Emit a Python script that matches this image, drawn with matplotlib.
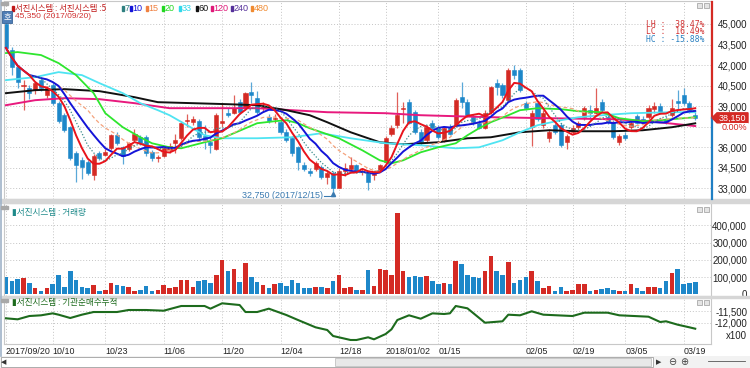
import numpy as np
import pandas as pd
import matplotlib
matplotlib.use("Agg")
import matplotlib.pyplot as plt
from matplotlib.patches import Rectangle, Polygon
from matplotlib.lines import Line2D

plt.rcParams['font.family'] = ['Noto Sans CJK KR', 'DejaVu Sans']

# ---- daily candles (2017/09/20 .. 2018/03/20) ----
opens = [45000, 43100, 41850, 40500, 40300, 40150, 40900, 39800, 40550, 39200,
         38350, 37450, 35550, 35050, 34900, 33950, 35600, 35450, 35950, 36900,
         36000, 35900, 36500, 36750, 36750, 35650, 35200, 35400, 35800, 36300,
         36650, 37900, 37850, 37950, 36850, 36350, 35900, 37750, 38500, 38500,
         39300, 38850, 40050, 39600, 38850, 38200, 38050, 37850, 37100, 36650,
         36000, 34700, 34300, 34450, 34550, 33800, 34150, 33050, 34250, 34450,
         34700, 34200, 34150, 33950, 34350, 34900, 37000, 37600, 38800, 39300,
         38550, 37100, 36500, 37800, 37400, 36500, 37500, 37600, 39650, 39300,
         38200, 37800, 37400, 38550, 40700, 40550, 39450, 41650, 41650, 39200,
         37450, 39200, 37600, 36650, 37600, 37600, 36350, 37100, 37450, 38200,
         38700, 38500, 39300, 38200, 37850, 36350, 36900, 37450, 38300, 38100,
         38200, 38800, 39050, 38100, 38350, 39350, 39800, 39250, 38350]
highs = [45350, 43300, 42000, 40900, 40550, 40850, 41100, 40500, 40700, 39400,
         38500, 37550, 35700, 35300, 35100, 35500, 35700, 35900, 37000, 37100,
         36100, 36400, 37300, 36900, 36900, 35800, 35450, 36100, 36300, 37000,
         37900, 38400, 38300, 38100, 37600, 36800, 38500, 39200, 38900, 39850,
         39500, 40000, 40800, 40100, 39300, 38400, 38400, 38000, 37300, 36800,
         36100, 34900, 34500, 35000, 34700, 34300, 34300, 34500, 34850, 35300,
         34800, 34500, 34300, 34300, 34800, 36800, 37600, 40000, 39300, 39500,
         38700, 37300, 37600, 38000, 37600, 37500, 37700, 39600, 40800, 39500,
         38400, 38000, 38700, 40500, 41000, 40700, 41800, 42000, 41800, 39400,
         38700, 39400, 38700, 37300, 37800, 37800, 37000, 37600, 37900, 39000,
         39100, 40300, 39500, 38400, 38000, 37000, 37100, 38000, 38400, 38300,
         39100, 39300, 39200, 38300, 39500, 40200, 40300, 39400, 38600]
lows = [43000, 41300, 40300, 38700, 39500, 39900, 40100, 39600, 39100, 37800,
        37100, 35100, 33450, 33700, 34000, 33600, 35100, 35400, 35800, 36200,
        34800, 35700, 36400, 36200, 35400, 35000, 34950, 35300, 35600, 35600,
        36500, 37500, 37600, 36600, 35900, 35600, 35800, 37500, 38200, 38400,
        38400, 38700, 39200, 38400, 38600, 37800, 37800, 37000, 36400, 35400,
        34350, 34300, 33900, 34300, 33700, 33300, 32750, 33000, 33900, 34300,
        34200, 34000, 32900, 33600, 34200, 34800, 36800, 37400, 37800, 37700,
        37000, 36200, 36300, 37300, 36600, 36400, 36900, 37500, 38900, 38200,
        37600, 37300, 37300, 38400, 39850, 39600, 39300, 41000, 40000, 38700,
        36100, 37900, 37400, 36400, 37000, 36000, 35900, 37000, 37300, 38000,
        38100, 38400, 38600, 37700, 36600, 36200, 36500, 37300, 37700, 37800,
        38100, 38500, 38400, 37700, 38200, 38700, 39100, 38500, 38000]
closes = [43250, 41850, 40750, 40550, 39950, 40700, 40300, 40300, 39200, 37950,
          37250, 35250, 34700, 34550, 34100, 35400, 35250, 35650, 36900, 36300,
          35400, 36300, 37000, 36300, 35550, 35200, 35300, 35950, 36100, 36500,
          37750, 37980, 38100, 36750, 36500, 36150, 38350, 37950, 38350, 38900,
          38550, 39950, 39800, 38550, 39050, 37950, 38150, 37100, 36500, 35550,
          34900, 34450, 34100, 34850, 33800, 34150, 33050, 34300, 34500, 34700,
          34300, 34300, 33450, 34150, 34700, 36700, 37400, 38350, 38850, 37800,
          37100, 36350, 37450, 37400, 36750, 37400, 37000, 39450, 39300, 38350,
          37750, 37400, 38500, 40400, 40400, 39800, 41650, 41250, 40150, 38900,
          38500, 38100, 38500, 37100, 37100, 36150, 36850, 37400, 37750, 38850,
          38500, 38850, 38700, 37850, 36750, 36850, 36650, 37800, 37800, 37950,
          38900, 39050, 38550, 37850, 38900, 39250, 39250, 38700, 38150]
# volume, thousands of shares
volumes_k = [100, 77, 88, 94, 69, 37, 19, 39, 63, 110,
             46, 133, 85, 42, 35, 56, 19, 27, 67, 56,
             48, 42, 23, 27, 50, 23, 27, 56, 39, 46,
             85, 85, 42, 77, 81, 67, 114, 200, 137, 148,
             75, 183, 104, 73, 56, 35, 58, 69, 52, 81,
             69, 40, 40, 46, 46, 35, 79, 110, 39, 42,
             27, 27, 143, 50, 148, 139, 114, 472, 133, 100,
             108, 100, 108, 77, 62, 69, 58, 195, 179, 112,
             102, 94, 133, 220, 133, 112, 187, 65, 85, 102,
             135, 77, 39, 50, 23, 42, 19, 27, 62, 62,
             19, 27, 29, 40, 27, 23, 19, 60, 36, 20,
             43, 43, 40, 79, 127, 146, 60, 69, 75]

tick_pos = [0, 8, 17, 27, 37, 47, 57, 65, 74, 89, 97, 106, 116]
tick_labels = ['2017/09/20', '10/10', '10/23', '11/06', '11/20', '12/04', '12/18',
               '2018/01/02', '01/15', '02/05', '02/19', '03/05', '03/19']

# longer moving averages (need history before the window) read at sample bars
ma20_idx = [0, 2, 6, 9, 12, 15, 17, 20, 23, 25, 28, 30, 32, 34, 37, 39, 41, 43, 46, 48,
            50, 52, 54, 57, 61, 64, 66, 68, 71, 74, 77, 79, 81, 83, 86, 88, 91, 95, 98, 102,
            105, 109, 112, 118]
ma20_val = [42878, 42951, 42732, 42146, 41268, 39951, 38488, 37464, 36732, 36293,
            35999, 35927, 36146, 36366, 36659, 37025, 37390, 37756, 37903, 37976,
            37756, 37390, 37100, 36659, 35781, 35049, 34829, 35049, 35634, 35999,
            36293, 36878, 37390, 37829, 38341, 38707, 38854, 38781, 38634, 38561,
            38122, 37903, 37976, 38195]
ma33_idx = [0, 5, 9, 13, 16, 20, 23, 26, 28, 34, 37, 40, 43, 49, 54, 59, 65, 71, 77, 81,
            85, 88, 91, 95, 98, 102, 107, 114, 118]
ma33_val = [40902, 41122, 41488, 41268, 40683, 39951, 39220, 38707, 38341, 36878,
            36659, 36659, 36659, 36732, 37025, 36659, 36293, 36146, 35927, 35999,
            36512, 37098, 37610, 37976, 38195, 38341, 38488, 38561, 38561]
ma60_idx = [0, 5, 10, 16, 22, 26, 32, 38, 43, 48, 52, 55, 59, 64, 68, 74, 79, 83, 88, 93,
            98, 104, 109, 114, 118]
ma60_val = [39951, 40171, 40244, 40098, 39659, 39293, 39220, 39146, 39073, 38707,
            38341, 37829, 37098, 36366, 36220, 36366, 36659, 36732, 37098, 37244,
            37171, 37171, 37244, 37464, 37750]
ma120_idx = [0, 5, 10, 16, 22, 28, 38, 43, 49, 55, 65, 71, 83, 93, 104, 110, 118]
ma120_val = [39073, 39439, 39585, 39512, 39220, 38854, 38854, 38854, 38707, 38561,
             38488, 38341, 38195, 38122, 38049, 37903, 37550]

# institutional cumulative net buying (x100)
inst_idx = [0, 2, 4, 6, 8, 9, 11, 13, 15, 19, 21, 24, 27, 30, 34, 35, 37, 40, 41, 43,
            45, 48, 50, 53, 55, 56, 59, 60, 62, 63, 65, 66, 67, 69, 71, 73, 75, 76, 77, 79,
            82, 85, 86, 88, 90, 92, 97, 99, 103, 105, 110, 112, 113, 115, 117, 118]
inst_val = [-11812, -11855, -11714, -11684, -11600, -11657, -11799, -11657, -11543, -11543,
            -11457, -11457, -11487, -11286, -11286, -11400, -11171, -11244, -11543, -11543,
            -11400, -11671, -11885, -12197, -12312, -12568, -12739, -12739, -12624, -12710,
            -12483, -12282, -11885, -11684, -11829, -11600, -11628, -11600, -11286, -11385,
            -12000, -11940, -11657, -11684, -11513, -11657, -11714, -11572, -11572, -11684,
            -11743, -11970, -11940, -12085, -12197, -12256]

RED = '#d42a24'
BLUE = '#1d87c9'
GRID = '#c4c4c4'
W, H = 750, 368


def fx(x):
    return x / W


def fy(y):
    return 1 - y / H


o = np.array(opens)
h = np.array(highs)
l = np.array(lows)
c = np.array(closes)
n = len(c)
x = np.arange(n)
up = c >= o
cols = np.where(up, RED, BLUE)
wick_cols = np.where(up, '#e0605a', '#5aa8d8')

close_s = pd.Series(c, dtype=float)
ma5 = close_s.rolling(5, min_periods=1).mean()
ma7 = close_s.rolling(7, min_periods=1).mean()
ma10 = close_s.rolling(10, min_periods=1).mean()
ma15 = close_s.rolling(15, min_periods=1).mean()

fig = plt.figure(figsize=(7.5, 3.68), dpi=100)
fig.patch.set_facecolor('white')

XL = (-0.34, 120.7)
ax_p = fig.add_axes([fx(4), fy(199), 707 / W, 198 / H])
ax_v = fig.add_axes([fx(4), fy(296), 707 / W, 93 / H])
ax_i = fig.add_axes([fx(4), fy(344), 707 / W, 46 / H])

for ax in (ax_p, ax_v, ax_i):
    ax.set_xlim(*XL)
    ax.set_facecolor('white')
    for s in ax.spines.values():
        s.set_color('#c8c8c8')
        s.set_linewidth(0.8)
    ax.yaxis.tick_right()
    ax.tick_params(axis='y', length=0, labelsize=7, pad=26, colors='#222222')
    ax.tick_params(axis='x', length=0)
    for xp in tick_pos:
        ax.axvline(xp, color=GRID, lw=0.7, ls=(0, (1, 2)), zorder=0)

# ---- price panel ----
ax_p.set_ylim(32225, 46679)
pticks = [33000, 34500, 36000, 37500, 39000, 40500, 42000, 43500, 45000]
ax_p.set_yticks(pticks)
ax_p.set_yticklabels([f'{t:,}' if t != 37500 else '' for t in pticks],
                     fontfamily='Liberation Sans')
for t in pticks:
    ax_p.axhline(t, color=GRID, lw=0.7, ls=(0, (1, 2)), zorder=0)
ax_p.set_xticks([])

ax_p.vlines(x, l, h, colors=wick_cols, lw=0.9, zorder=2)
body = np.maximum(np.abs(c - o), 40)
ax_p.bar(x, body, bottom=np.minimum(o, c), width=0.7, color=cols,
         edgecolor=cols, lw=0.4, zorder=2)

ax_p.plot(ma120_idx, ma120_val, color='#e8197d', lw=1.4, zorder=3)
ax_p.plot(ma60_idx, ma60_val, color='#111111', lw=1.4, zorder=3)
ax_p.plot(ma33_idx, ma33_val, color='#4fe4f2', lw=1.3, zorder=3)
ax_p.plot(ma20_idx, ma20_val, color='#2ee62e', lw=1.3, zorder=3)
ax_p.plot(x, ma15, color='#f4a27c', lw=0.9, ls=(0, (3, 2)), zorder=3)
ax_p.plot(x, ma10, color='#1414d8', lw=1.4, zorder=4)
ax_p.plot(x, ma7, color='#3a8c8c', lw=0.9, ls=(0, (1, 1.5)), zorder=4)
ax_p.plot(x, ma5, color='#e8141c', lw=1.4, zorder=5)

# low annotation
imin = int(np.argmin(l))
ax_p.plot([imin - 1.6, imin], [32480, 32480], color='#3a7ab0', lw=0.8, zorder=6)
ax_p.plot([imin], [32560], marker='^', ms=3, color='#3a7ab0', zorder=6)
ax_p.text(imin - 1.7, 32480, f'{l[imin]:,} (2017/12/15)', color='#3a7ab0',
          fontsize=6.5, ha='right', va='center', fontfamily='Liberation Sans')

# ---- volume panel ----
vols = np.array(volumes_k) * 1000
ax_v.set_ylim(-8700, 529000)
vticks = [0, 100000, 200000, 300000, 400000]
ax_v.set_yticks(vticks)
ax_v.set_yticklabels([f'{t:,}' for t in vticks], fontfamily='Liberation Sans')
for t in vticks[1:]:
    ax_v.axhline(t, color=GRID, lw=0.7, ls=(0, (1, 2)), zorder=0)
ax_v.bar(x, vols, width=0.78, color=cols, zorder=2)
ax_v.set_xticks([])

# ---- institutional panel ----
ax_i.set_ylim(-12910, -10944)
iticks = [-12000, -11500]
ax_i.set_yticks(iticks)
ax_i.set_yticklabels([f'{t:,}' for t in iticks], fontfamily='Liberation Sans')
for t in iticks:
    ax_i.axhline(t, color=GRID, lw=0.7, ls=(0, (1, 2)), zorder=0)
ax_i.plot(inst_idx, inst_val, color='#1d6b1d', lw=1.5, zorder=3)
ax_i.set_xticks(tick_pos)
ax_i.set_xticklabels(tick_labels, fontsize=6.4, color='#222222', fontfamily='Liberation Sans')
for lab in ax_i.get_xticklabels():
    lab.set_horizontalalignment('left')
ax_i.tick_params(axis='x', pad=2)
for lab in ax_p.get_yticklabels() + ax_v.get_yticklabels() + ax_i.get_yticklabels():
    lab.set_horizontalalignment('right')

# ---- panel separators, frame bits ----
for y0, y1 in [(199, 203), (296, 298)]:
    fig.patches.append(Rectangle((0, fy(y1)), 1, (y1 - y0) / H, transform=fig.transFigure,
                                 color='#d6d6d6', zorder=0))
fig.add_artist(Line2D([fx(0.7), fx(0.7)], [fy(0), fy(356)], color='#9fb3c8', lw=1.2))

# current price line on right edge
last = c[-1]
ylast = fy(1) - (46679 - last) / (46679 - 32225) * (198 / H)
fig.add_artist(Line2D([fx(711.5), fx(711.5)], [fy(2), ylast], color=RED, lw=1.6))
fig.add_artist(Line2D([fx(711.5), fx(711.5)], [ylast, fy(199)], color='#1f7fc4', lw=1.6))
yl_px = (1 - ylast) * H
fig.patches.append(Polygon([(fx(712), ylast), (fx(717), fy(yl_px - 5)), (fx(748), fy(yl_px - 5)),
                            (fx(748), fy(yl_px + 5)), (fx(717), fy(yl_px + 5))],
                           closed=True, transform=fig.transFigure, color=RED, zorder=5))
fig.text(fx(746), ylast, f'{last:,}', color='white', fontsize=6.5, ha='right', va='center',
         fontfamily='Liberation Sans', zorder=6)
fig.text(fx(747), fy(yl_px + 10), '0.00%', color=RED, fontsize=6.5, ha='right', va='center',
         fontfamily='Liberation Sans', zorder=6,
         bbox=dict(facecolor='white', edgecolor='none', pad=0.5))

fig.text(fx(747), fy(336), 'x100', fontsize=7, ha='right', va='center', color='#222222',
         fontfamily='Liberation Sans')

# LH / LC / HC box
mono = 'DejaVu Sans Mono'
fig.text(fx(704), fy(24.5), 'LH :  38.47%', color='#d03030', fontsize=5.8, ha='right',
         va='center', fontfamily=mono)
fig.text(fx(704), fy(32), 'LC :  16.49%', color='#d03030', fontsize=5.8, ha='right',
         va='center', fontfamily=mono)
fig.text(fx(704), fy(39.5), 'HC : -15.88%', color='#2a80c0', fontsize=5.8, ha='right',
         va='center', fontfamily=mono)

# legend line on price panel (the max-high note sits just under it)
fig.text(fx(15), fy(17), '45,350 (2017/09/20)', color='#d03030', fontsize=6,
         va='center', fontfamily='Liberation Sans')
fig.patches.append(Rectangle((fx(12), fy(11)), 1.6 / W, 5 / H, transform=fig.transFigure,
                             color='#c01818', zorder=6))
fig.text(fx(15), fy(8), '서진시스템 : 서진시스템 :5', color='#c01818', fontsize=6,
         va='center', family=['Noto Sans CJK KR', 'DejaVu Sans'])
ma_leg = [('7', 122, '#2f8080'), ('10', 130, '#1414d8'), ('15', 146, '#f08040'),
          ('20', 162, '#22d822'), ('33', 179, '#30d8ea'), ('60', 196, '#111111'),
          ('120', 211, '#e01878'), ('240', 231, '#55309a'), ('480', 251, '#f08a30')]
for lab, xx, col in ma_leg:
    fig.patches.append(Rectangle((fx(xx), fy(11)), 1.6 / W, 5 / H, transform=fig.transFigure,
                                 color=col, zorder=6))
    fig.text(fx(xx + 2.6), fy(8.5), lab, color=col, fontsize=6.5, va='center',
             fontfamily='Liberation Sans')

# "호" button
fig.text(fx(7), fy(17), '호', color='white', fontsize=6, ha='center', va='center',
         bbox=dict(facecolor='#4f7eb6', edgecolor='#3a6496', pad=1.2, lw=0.6), zorder=7)

# panel labels
fig.text(fx(12), fy(212), '▮서진시스템 : 거래량', color='#1e8a8a', fontsize=6.2, va='center',
         family=['Noto Sans CJK KR', 'DejaVu Sans'])
fig.text(fx(12), fy(302), '▮서진시스템 : 기관순매수누적', color='#1d6b1d', fontsize=6.2,
         va='center', family=['Noto Sans CJK KR', 'DejaVu Sans'])

# small window icons
for yy in (3, 207, 300):
    fig.patches.append(Rectangle((fx(1), fy(yy + 2)), 7 / W, 3 / H, transform=fig.transFigure,
                                 color='#a8a8a8', zorder=6))
    for xx in (697, 704):
        fig.patches.append(Rectangle((fx(xx), fy(yy + 5)), 5 / W, 5 / H,
                                     transform=fig.transFigure, facecolor='#e4e4e4',
                                     edgecolor='#9a9a9a', lw=0.5, zorder=6))

# scrollbar strip
fig.patches.append(Rectangle((0, 0), 1, 12 / H, transform=fig.transFigure,
                             facecolor='#f2f2f2', edgecolor='none', zorder=1))
fig.patches.append(Rectangle((fx(1), fy(367)), 652 / W, 10 / H, transform=fig.transFigure,
                             facecolor='white', edgecolor='#a0a0a0', lw=0.6, zorder=2))
fig.patches.append(Rectangle((fx(335), fy(366)), 316 / W, 8 / H, transform=fig.transFigure,
                             facecolor='#e8e8e8', edgecolor='#b8b8b8', lw=0.5, zorder=3))
fig.text(fx(4), fy(362), '◀', fontsize=5, va='center', ha='center', color='#333333',
         family=['DejaVu Sans'])
fig.text(fx(659), fy(362), '▶', fontsize=5, va='center', ha='center', color='#333333',
         family=['DejaVu Sans'])
fig.text(fx(672), fy(362), '⊖', fontsize=7, va='center', ha='center', color='#444444',
         family=['DejaVu Sans'])
fig.text(fx(684), fy(362), '⊕', fontsize=7, va='center', ha='center', color='#444444',
         family=['DejaVu Sans'])
fig.add_artist(Line2D([fx(708), fx(745)], [fy(361), fy(361)], color='#555555', lw=0.6))

fig.savefig('out.png', dpi=100, facecolor='white')
